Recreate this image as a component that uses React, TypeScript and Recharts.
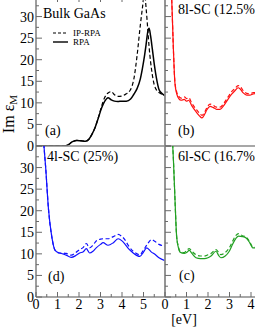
import { Line, LineChart, XAxis, YAxis } from "recharts";

const FONT = '"Liberation Serif", "DejaVu Serif", serif';
const AXIS = "#6a6a6a";
const DIVIDER = "#8a8a8a";

// (a) bulk GaAs
const bulkE = [0, 1.35, 1.5, 1.7, 1.9, 2.1, 2.3, 2.45, 2.6, 2.75, 2.9, 3.05, 3.2, 3.35, 3.5, 3.65, 3.8, 4.0, 4.2, 4.4, 4.55, 4.7, 4.85, 4.95, 5.05, 5.12, 5.2, 5.26, 5.33, 5.41, 5.5, 5.6, 5.72, 5.85, 6.0];
const bulkRPA = [0, 0, 0.3, 1.0, 1.3, 1.2, 1.1, 1.5, 2.7, 4.3, 6.5, 8.8, 10.4, 11.2, 10.7, 10.4, 10.3, 10.4, 10.4, 10.9, 12.0, 13.3, 15.5, 18.0, 21.0, 23.5, 26.5, 27.3, 25.5, 22.5, 19.0, 15.8, 13.1, 12.2, 11.6];
const bulkIP = [0, 0, 0.3, 1.0, 1.3, 1.2, 1.1, 1.5, 2.7, 4.3, 6.6, 9.2, 11.3, 12.3, 12.6, 11.9, 11.5, 11.6, 12.1, 13.1, 15.5, 20.9, 27.9, 32.0, 35.5, 32.0, 27.0, 23.0, 19.5, 16.5, 14.2, 13.0, 12.4, 12.0, 11.7];

// (b) 8l-SC
const sc8E = [0.25, 0.32, 0.39, 0.46, 0.55, 0.64, 0.75, 0.9, 1.0, 1.1, 1.25, 1.45, 1.6, 1.72, 1.85, 1.95, 2.1, 2.25, 2.4, 2.56, 2.75, 2.95, 3.1, 3.25, 3.4, 3.5, 3.64, 3.8, 3.95, 4.1, 4.3];
const sc8RPA = [40, 33, 22.5, 14.7, 12.0, 11.0, 10.6, 10.8, 10.4, 10.6, 9.3, 7.9, 7.0, 6.5, 7.4, 8.4, 9.2, 8.9, 8.5, 8.5, 9.5, 11.0, 12.0, 12.8, 13.5, 13.2, 12.3, 11.8, 11.8, 12.1, 12.2];
const sc8IP = [40, 33, 22.5, 14.9, 12.4, 11.5, 11.1, 11.4, 11.0, 11.2, 9.9, 8.5, 7.6, 7.1, 7.9, 8.9, 9.7, 9.4, 9.0, 9.0, 10.0, 11.5, 12.6, 13.3, 14.0, 13.8, 12.8, 12.2, 12.1, 12.4, 12.4];

// (d) 4l-SC
const sc4E = [0.3, 0.37, 0.45, 0.58, 0.73, 0.89, 1.09, 1.25, 1.4, 1.64, 1.85, 2.03, 2.2, 2.34, 2.49, 2.65, 2.8, 3.0, 3.12, 3.35, 3.6, 3.82, 4.0, 4.13, 4.3, 4.52, 4.7, 4.83, 5.0, 5.15, 5.37, 5.5, 5.72, 6.0];
const sc4RPA = [40, 35, 30, 20.4, 14.1, 10.8, 10.2, 10.0, 9.7, 9.2, 9.6, 10.2, 10.5, 11.2, 10.2, 10.6, 11.4, 12.2, 12.6, 12.0, 12.6, 13.5, 13.0, 12.3, 11.2, 10.2, 9.6, 9.4, 10.4, 11.4, 10.4, 10.0, 9.1, 8.4];
const sc4IP = [40, 35, 30, 20.4, 14.1, 10.8, 10.2, 10.2, 10.1, 9.7, 10.3, 11.0, 11.5, 12.4, 11.4, 12.0, 13.0, 13.4, 13.5, 13.5, 14.0, 14.5, 14.0, 13.3, 11.9, 10.6, 10.0, 9.8, 10.9, 12.0, 13.3, 13.0, 12.2, 11.8];

// (c) 6l-SC
const sc6E = [0.3, 0.39, 0.47, 0.54, 0.62, 0.7, 0.9, 1.0, 1.13, 1.25, 1.44, 1.65, 1.83, 2.0, 2.14, 2.37, 2.5, 2.6, 2.8, 2.99, 3.15, 3.3, 3.42, 3.6, 3.77, 3.95, 4.08, 4.3];
const sc6RPA = [40, 32, 21.9, 14.1, 11.5, 10.4, 10.1, 10.3, 10.8, 10.1, 9.1, 8.9, 8.9, 9.1, 9.5, 10.6, 9.6, 9.1, 9.5, 10.6, 12.3, 13.6, 14.1, 14.0, 13.7, 12.5, 11.4, 11.4];
const sc6IP = [40, 32, 21.9, 14.1, 11.7, 10.6, 10.3, 10.8, 11.2, 10.6, 9.8, 9.5, 9.5, 9.8, 10.1, 11.0, 10.3, 9.8, 10.3, 11.4, 13.0, 14.3, 14.7, 14.2, 13.9, 12.7, 11.6, 11.5];

const yTicks = [0, 2.5, 5, 7.5, 10, 12.5, 15, 17.5, 20, 22.5, 25, 27.5, 30, 32.5, 35];
const xTicksLeft = [0, 0.5, 1, 1.5, 2, 2.5, 3, 3.5, 4, 4.5, 5, 5.5];
const xTicksRight = [0, 0.5, 1, 1.5, 2, 2.5, 3, 3.5, 4, 4.5, 5, 5.5, 6];
const topTicks = [1, 2, 3, 4, 5];

const rows = (e: number[], rpa: number[], ip: number[]) =>
  e.map((x, i) => ({ e: x, rpa: rpa[i], ip: ip[i] }));

const YW = 36; // y axis strip
const TOPH = 5;
const PW = 129;
const PH = 151;
const BOTH = 28;

function Panel({
  x0,
  y0,
  data,
  color,
  yLabels,
  labelTop,
  xTicks,
  xLabelMax,
  withTop,
  axisColor,
  axisWidth,
}: {
  x0: number;
  y0: number;
  data: { e: number; rpa: number; ip: number }[];
  color: string;
  yLabels: boolean;
  labelTop: boolean;
  xTicks: number[] | null;
  xLabelMax: number;
  withTop: boolean;
  axisColor: string;
  axisWidth: number;
}) {
  const yTick = (p: any) => {
    const v = p.payload.value;
    const major = v % 5 === 0;
    const showLabel = yLabels && major && (labelTop || v !== 35);
    return (
      <g>
        <line x1={p.x} x2={p.x + (major ? 6 : 3)} y1={p.y} y2={p.y} stroke={AXIS} strokeWidth={1} />
        {showLabel && (
          <text x={p.x - 2} y={p.y} dy="0.36em" textAnchor="end" fontSize={14} fontFamily={FONT} fill="#000">
            {v}
          </text>
        )}
      </g>
    );
  };
  const xTick = (p: any) => {
    const v = p.payload.value;
    const major = Number.isInteger(v);
    return (
      <g>
        <line x1={p.x} x2={p.x} y1={p.y} y2={p.y - (major ? 5 : 3)} stroke={AXIS} strokeWidth={1} />
        {major && v <= xLabelMax && (
          <text x={p.x} y={p.y + 11.5} textAnchor="middle" fontSize={14} fontFamily={FONT} fill="#000">
            {v}
          </text>
        )}
      </g>
    );
  };
  const tTick = (p: any) => (
    <line x1={p.x} x2={p.x} y1={p.y} y2={p.y + 7} stroke={AXIS} strokeWidth={1} />
  );
  return (
    <div style={{ position: "absolute", left: x0 - YW, top: y0 - TOPH }}>
      <LineChart width={YW + PW} height={TOPH + PH + BOTH} data={data} margin={{ top: TOPH - 1, right: 0, bottom: 0, left: 0 }}>
        <XAxis
          xAxisId="t"
          orientation="top"
          type="number"
          dataKey="e"
          domain={[0, 6]}
          allowDataOverflow
          height={1}
          ticks={topTicks}
          interval={0}
          tickSize={0}
          tickMargin={0}
          tickLine={false}
          axisLine={false}
          tick={withTop ? tTick : false}
        />
        <XAxis
          xAxisId="b"
          orientation="bottom"
          type="number"
          dataKey="e"
          domain={[0, 6]}
          allowDataOverflow
          height={BOTH}
          ticks={xTicks ?? xTicksRight}
          interval={0}
          tickSize={0}
          tickMargin={0}
          tickLine={false}
          axisLine={{ stroke: DIVIDER, strokeWidth: 1.6 }}
          tick={xTicks ? xTick : false}
        />
        <YAxis
          type="number"
          domain={[0, 35]}
          allowDataOverflow
          width={YW}
          ticks={yTicks}
          interval={0}
          tickSize={0}
          tickMargin={0}
          tickLine={false}
          axisLine={{ stroke: axisColor, strokeWidth: axisWidth }}
          tick={yTick}
        />
        <Line
          xAxisId="b"
          type="monotone"
          dataKey="ip"
          stroke={color}
          strokeWidth={1.2}
          strokeDasharray="4 2.5"
          dot={false}
          isAnimationActive={false}
        />
        <Line
          xAxisId="b"
          type="monotone"
          dataKey="rpa"
          stroke={color}
          strokeWidth={color === "#000000" ? 1.5 : 1.2}
          dot={false}
          isAnimationActive={false}
        />
      </LineChart>
    </div>
  );
}

export default function App() {
  const txt = { fontFamily: FONT, fill: "#000" };
  return (
    <div style={{ position: "absolute", left: 0, top: 0, width: 255, height: 330, overflow: "hidden", background: "#fff" }}>
      <Panel x0={36} y0={-5} data={rows(bulkE, bulkRPA, bulkIP)} color="#000000" yLabels labelTop xTicks={null} xLabelMax={0} withTop axisColor={AXIS} axisWidth={1.3} />
      <Panel x0={36} y0={146} data={rows(sc4E, sc4RPA, sc4IP)} color="#1010ff" yLabels labelTop={false} xTicks={xTicksLeft} xLabelMax={5} withTop={false} axisColor={AXIS} axisWidth={1.3} />
      <Panel x0={165} y0={-5} data={rows(sc8E, sc8RPA, sc8IP)} color="#ff1010" yLabels={false} labelTop={false} xTicks={null} xLabelMax={0} withTop={false} axisColor={DIVIDER} axisWidth={1.8} />
      <Panel x0={165} y0={146} data={rows(sc6E, sc6RPA, sc6IP)} color="#22a022" yLabels={false} labelTop={false} xTicks={xTicksRight} xLabelMax={4} withTop={false} axisColor={DIVIDER} axisWidth={1.8} />
      <svg width={255} height={330} style={{ position: "absolute", left: 0, top: 0, pointerEvents: "none" }}>
        <text x={43} y={18} fontSize={14} {...txt}>Bulk GaAs</text>
        <line x1={53} x2={68} y1={33} y2={33} stroke="#000" strokeWidth={1.2} strokeDasharray="3 2" />
        <text x={73} y={36} fontSize={9} {...txt}>IP-RPA</text>
        <line x1={53} x2={68} y1={42} y2={42} stroke="#000" strokeWidth={1.4} />
        <text x={73} y={45} fontSize={9} {...txt}>RPA</text>
        <text x={45} y={135} fontSize={14} {...txt}>(a)</text>
        <text x={178} y={135} fontSize={14} {...txt}>(b)</text>
        <text x={48} y={281} fontSize={14} {...txt}>(d)</text>
        <text x={179} y={280} fontSize={14} {...txt}>(c)</text>
        <text x={178} y={14} fontSize={14} {...txt}>8l-SC (12.5%)</text>
        <text x={47} y={161} fontSize={14} {...txt}>4l-SC (25%)</text>
        <text x={178} y={161} fontSize={14} {...txt}>6l-SC (16.7%)</text>
        <text x={184} y={324} fontSize={14} textAnchor="middle" {...txt}>[eV]</text>
        <text transform="translate(14,114) rotate(-90)" textAnchor="middle" fontSize={16} {...txt}>
          Im ε<tspan fontSize={11} dy={3}>M</tspan>
        </text>
      </svg>
    </div>
  );
}
